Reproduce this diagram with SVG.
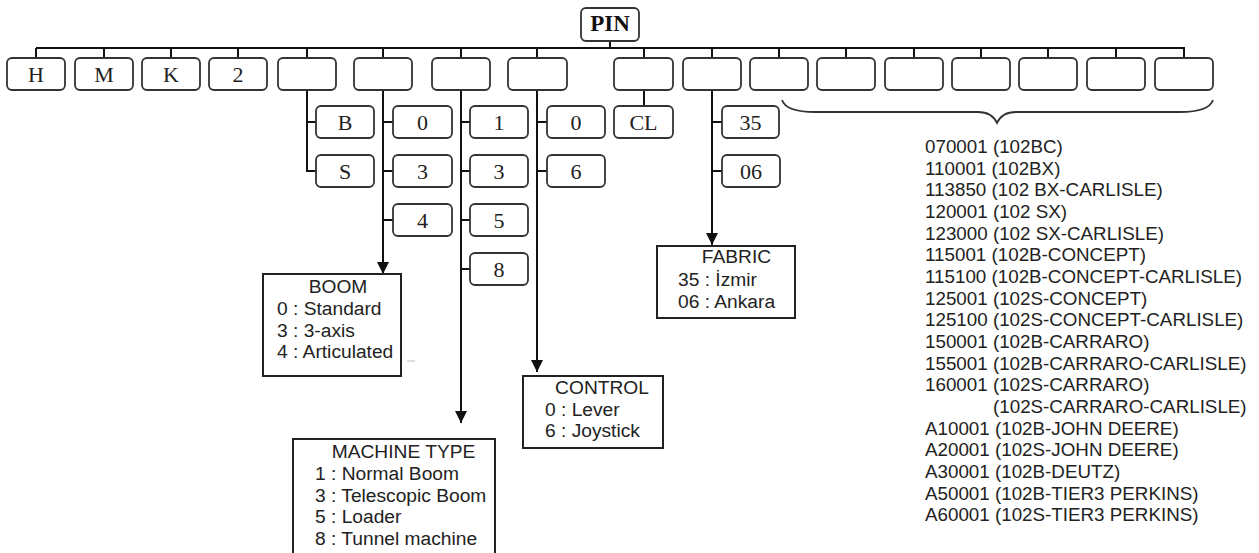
<svg xmlns="http://www.w3.org/2000/svg" width="1259" height="553" viewBox="0 0 1259 553">
<style>
.bx{fill:#fff;stroke:#333;stroke-width:1.8}
.t{font-family:"Liberation Serif","Times New Roman",serif;font-size:22px;fill:#222;text-anchor:middle}
.pin{font-weight:bold;font-size:23px;fill:#111}
.c{stroke:#111;stroke-width:2;fill:none}
.lg{fill:#fff;stroke:#222;stroke-width:2}
.s{font-family:"Liberation Sans",Arial,sans-serif;font-size:19.2px;fill:#222}
.r{font-size:18.8px}
.m{text-anchor:middle}
</style>
<defs>
<marker id="ah" viewBox="0 0 12 12" refX="12" refY="6" markerWidth="12" markerHeight="12" markerUnits="userSpaceOnUse" orient="auto">
<path d="M0,0 L12,6 L0,12 z" fill="#111"/>
</marker>
</defs>
<g id="connectors">
<path class="c" d="M610,41 V48 M36,48 H1185"/>
<path class="c" d="M36,48 V58 M104,48 V58 M171,48 V58 M238,48 V58 M307,48 V58 M383,48 V58 M461,48 V58 M537,48 V58 M644,48 V58 M712,48 V58 M779,48 V58 M846,48 V58 M914,48 V58 M981,48 V58 M1048,48 V58 M1116,48 V58 M1184,48 V58"/>
<path class="c" d="M307,90 V171 H316 M307,122 H316"/>
<path class="c" d="M383,122 H393 M383,171 H393 M383,220 H393"/>
<line class="c" x1="383" y1="90" x2="383" y2="274" marker-end="url(#ah)"/>
<path class="c" d="M461,122 H470 M461,171 H470 M461,220 H470 M461,269 H470"/>
<line class="c" x1="461" y1="90" x2="461" y2="423" marker-end="url(#ah)"/>
<path class="c" d="M537,122 H547 M537,171 H547"/>
<line class="c" x1="537" y1="90" x2="537" y2="372" marker-end="url(#ah)"/>
<path class="c" d="M644,90 V106"/>
<path class="c" d="M712,122 H722 M712,171 H722"/>
<line class="c" x1="712" y1="90" x2="712" y2="245" marker-end="url(#ah)"/>
<path d="M782,100 Q786,112 815,112 L978,112 Q992,112 997,123 Q1002,112 1016,112 L1180,112 Q1209,112 1213,100" fill="none" stroke="#333" stroke-width="1.8"/>
</g>
<g id="pin"><rect class="bx" x="581" y="8" width="58" height="33" rx="5"/><text class="t pin" x="610" y="31">PIN</text></g>
<g id="d1"><rect class="bx" x="7" y="58" width="58" height="32" rx="5"/><text class="t" x="36" y="82">H</text></g>
<g id="d2"><rect class="bx" x="75" y="58" width="58" height="32" rx="5"/><text class="t" x="104" y="82">M</text></g>
<g id="d3"><rect class="bx" x="142" y="58" width="58" height="32" rx="5"/><text class="t" x="171" y="82">K</text></g>
<g id="d4"><rect class="bx" x="209" y="58" width="58" height="32" rx="5"/><text class="t" x="238" y="82">2</text></g>
<g id="d5"><rect class="bx" x="278" y="58" width="58" height="32" rx="5"/></g>
<g id="d6"><rect class="bx" x="354" y="58" width="58" height="32" rx="5"/></g>
<g id="d7"><rect class="bx" x="432" y="58" width="58" height="32" rx="5"/></g>
<g id="d8"><rect class="bx" x="508" y="58" width="59" height="32" rx="5"/></g>
<g id="d9"><rect class="bx" x="614" y="58" width="59" height="32" rx="5"/></g>
<g id="d10"><rect class="bx" x="683" y="58" width="58" height="32" rx="5"/></g>
<g id="d11"><rect class="bx" x="750" y="58" width="58" height="32" rx="5"/></g>
<g id="d12"><rect class="bx" x="817" y="58" width="58" height="32" rx="5"/></g>
<g id="d13"><rect class="bx" x="885" y="58" width="58" height="32" rx="5"/></g>
<g id="d14"><rect class="bx" x="952" y="58" width="58" height="32" rx="5"/></g>
<g id="d15"><rect class="bx" x="1019" y="58" width="58" height="32" rx="5"/></g>
<g id="d16"><rect class="bx" x="1087" y="58" width="58" height="32" rx="5"/></g>
<g id="d17"><rect class="bx" x="1155" y="58" width="58" height="32" rx="5"/></g>
<g id="sB"><rect class="bx" x="316" y="106" width="58" height="32" rx="5"/><text class="t" x="345" y="130">B</text></g>
<g id="sS"><rect class="bx" x="316" y="155" width="58" height="32" rx="5"/><text class="t" x="345" y="179">S</text></g>
<g id="b0"><rect class="bx" x="393" y="106" width="59" height="32" rx="5"/><text class="t" x="422.5" y="130">0</text></g>
<g id="b3"><rect class="bx" x="393" y="155" width="59" height="32" rx="5"/><text class="t" x="422.5" y="179">3</text></g>
<g id="b4"><rect class="bx" x="393" y="204" width="59" height="32" rx="5"/><text class="t" x="422.5" y="228">4</text></g>
<g id="m1"><rect class="bx" x="470" y="106" width="58" height="32" rx="5"/><text class="t" x="499" y="130">1</text></g>
<g id="m3"><rect class="bx" x="470" y="155" width="58" height="32" rx="5"/><text class="t" x="499" y="179">3</text></g>
<g id="m5"><rect class="bx" x="470" y="204" width="58" height="32" rx="5"/><text class="t" x="499" y="228">5</text></g>
<g id="m8"><rect class="bx" x="470" y="253" width="58" height="32" rx="5"/><text class="t" x="499" y="277">8</text></g>
<g id="c0"><rect class="bx" x="547" y="106" width="58" height="32" rx="5"/><text class="t" x="576" y="130">0</text></g>
<g id="c6"><rect class="bx" x="547" y="155" width="58" height="32" rx="5"/><text class="t" x="576" y="179">6</text></g>
<g id="cl"><rect class="bx" x="614" y="106" width="59" height="32" rx="5"/><text class="t" x="643.5" y="130">CL</text></g>
<g id="f35"><rect class="bx" x="722" y="106" width="57" height="32" rx="5"/><text class="t" x="750.5" y="130">35</text></g>
<g id="f06"><rect class="bx" x="722" y="155" width="58" height="32" rx="5"/><text class="t" x="751" y="179">06</text></g>
<g id="boom">
<rect class="lg" x="263" y="274" width="138" height="102"/>
<text class="s m" x="338" y="293">BOOM</text>
<text class="s" x="277" y="315">0 : Standard</text>
<text class="s" x="277" y="337">3 : 3-axis</text>
<text class="s" x="277" y="358">4 : Articulated</text>
<line x1="407" y1="361" x2="415" y2="361" stroke="#bbb" stroke-width="1"/>
</g>
<g id="machine">
<rect class="lg" x="293" y="439" width="202" height="130"/>
<text class="s m" x="403.5" y="458">MACHINE TYPE</text>
<text class="s" x="315" y="480">1 : Normal Boom</text>
<text class="s" x="315" y="502">3 : Telescopic Boom</text>
<text class="s" x="315" y="523">5 : Loader</text>
<text class="s" x="315" y="545">8 : Tunnel machine</text>
</g>
<g id="control">
<rect class="lg" x="523" y="376" width="140" height="72"/>
<text class="s m" x="602" y="394">CONTROL</text>
<text class="s" x="545" y="416">0 : Lever</text>
<text class="s" x="545" y="437">6 : Joystick</text>
</g>
<g id="fabric">
<rect class="lg" x="657" y="246" width="138" height="72"/>
<text class="s m" x="736.5" y="263">FABRIC</text>
<text class="s" x="678" y="286">35 : İzmir</text>
<text class="s" x="678" y="308">06 : Ankara</text>
</g>
<g id="serials">
<text class="s r" x="925" y="153">070001 (102BC)</text>
<text class="s r" x="925" y="174.7">110001 (102BX)</text>
<text class="s r" x="925" y="196.3">113850 (102 BX-CARLISLE)</text>
<text class="s r" x="925" y="218">120001 (102 SX)</text>
<text class="s r" x="925" y="239.7">123000 (102 SX-CARLISLE)</text>
<text class="s r" x="925" y="261.3">115001 (102B-CONCEPT)</text>
<text class="s r" x="925" y="283">115100 (102B-CONCEPT-CARLISLE)</text>
<text class="s r" x="925" y="304.7">125001 (102S-CONCEPT)</text>
<text class="s r" x="925" y="326.3">125100 (102S-CONCEPT-CARLISLE)</text>
<text class="s r" x="925" y="348">150001 (102B-CARRARO)</text>
<text class="s r" x="925" y="369.7">155001 (102B-CARRARO-CARLISLE)</text>
<text class="s r" x="925" y="391.3">160001 (102S-CARRARO)</text>
<text class="s r" x="993" y="413">(102S-CARRARO-CARLISLE)</text>
<text class="s r" x="925" y="434.7">A10001 (102B-JOHN DEERE)</text>
<text class="s r" x="925" y="456.3">A20001 (102S-JOHN DEERE)</text>
<text class="s r" x="925" y="478">A30001 (102B-DEUTZ)</text>
<text class="s r" x="925" y="499.7">A50001 (102B-TIER3 PERKINS)</text>
<text class="s r" x="925" y="521.3">A60001 (102S-TIER3 PERKINS)</text>
</g>
</svg>
